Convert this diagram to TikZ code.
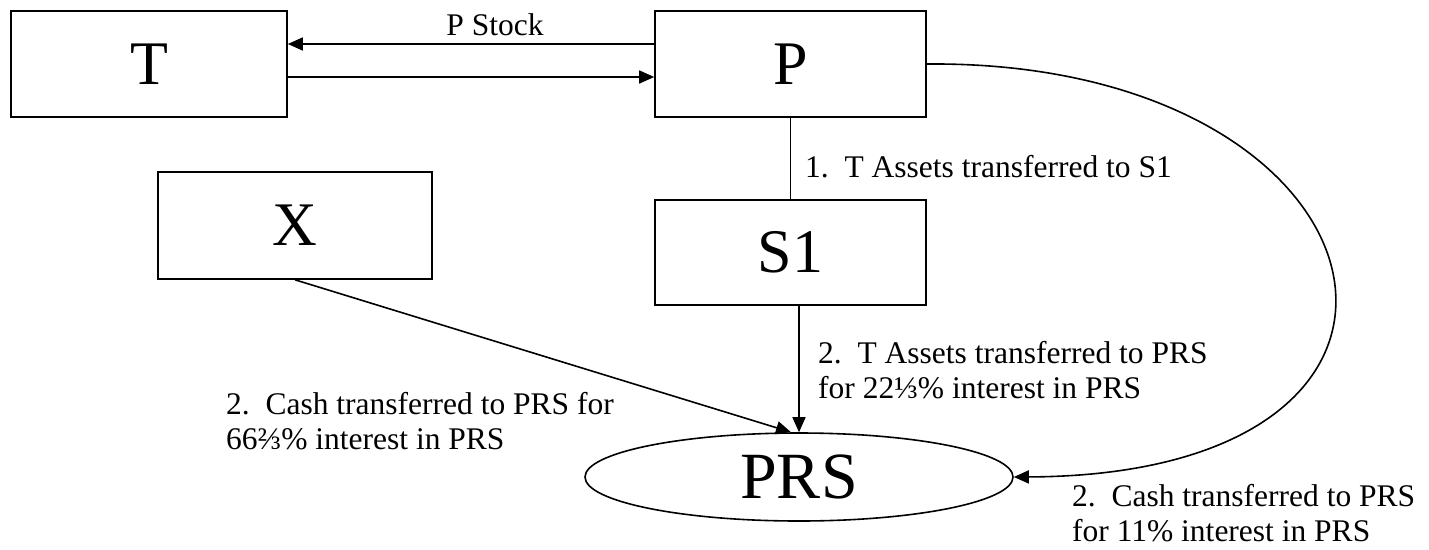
\documentclass[tikz,border=0pt]{standalone}
\usepackage{fontspec}
\setmainfont{Liberation Serif}
\usetikzlibrary{arrows.meta,shapes.geometric,calc}
\begin{document}
\begin{tikzpicture}[x=1pt,y=-1pt,
  box/.style={draw,line width=1.6pt,rectangle,inner sep=0pt,font=\fontsize{62}{62}\selectfont},
  oval/.style={draw,line width=1.6pt,ellipse,inner sep=0pt,font=\fontsize{66}{66}\selectfont},
  conn/.style={line width=1.6pt},
  arr/.style={line width=1.6pt,-{Triangle[length=15pt,width=13pt]}},
  lbl/.style={font=\fontsize{31.5}{35}\selectfont,align=left,inner sep=0pt}]
\useasboundingbox (0,0) rectangle (1429,549);
% boxes
\node[box,minimum width=276pt,minimum height=106pt] (T) at (149,64) {T};
\node[box,minimum width=271pt,minimum height=106pt] (P) at (790.5,64) {P};
\node[box,minimum width=274pt,minimum height=107pt] (X) at (295,225.5) {X};
\node[box,minimum width=271pt,minimum height=105pt] (S1) at (790.5,252.5) {S1};
\node[oval,minimum width=428pt,minimum height=88pt] (PRS) at (799,477) {PRS};
% connectors
\draw[arr] ([yshift=20pt]P.west) -- ([yshift=20pt]T.east);
\draw[arr] ([yshift=-13pt]T.east) -- ([yshift=-13pt]P.west);
\draw[conn] (P.south) -- (S1.north);
\draw[arr] (S1.south -| PRS.north) -- (PRS.north);
\draw[arr] (X.south) -- ([xshift=-8pt]PRS.north);
\draw[arr] (P.east) .. controls (1400,60) and (1500,475) .. (PRS.east);
% labels
\node[lbl,anchor=center] (ps) at (495,25) {P Stock};
\node[lbl,anchor=west] (l1) at (805,167) {1.\ \ T Assets transferred to S1};
\node[lbl,anchor=west] (l2) at (818,370) {2.\ \ T Assets transferred to PRS\\for 22⅓\% interest in PRS};
\node[lbl,anchor=west] (l3) at (226,421) {2.\ \ Cash transferred to PRS for\\66⅔\% interest in PRS};
\node[lbl,anchor=west] (l4) at (1072,513) {2.\ \ Cash transferred to PRS\\for 11\% interest in PRS};
\end{tikzpicture}
\end{document}
